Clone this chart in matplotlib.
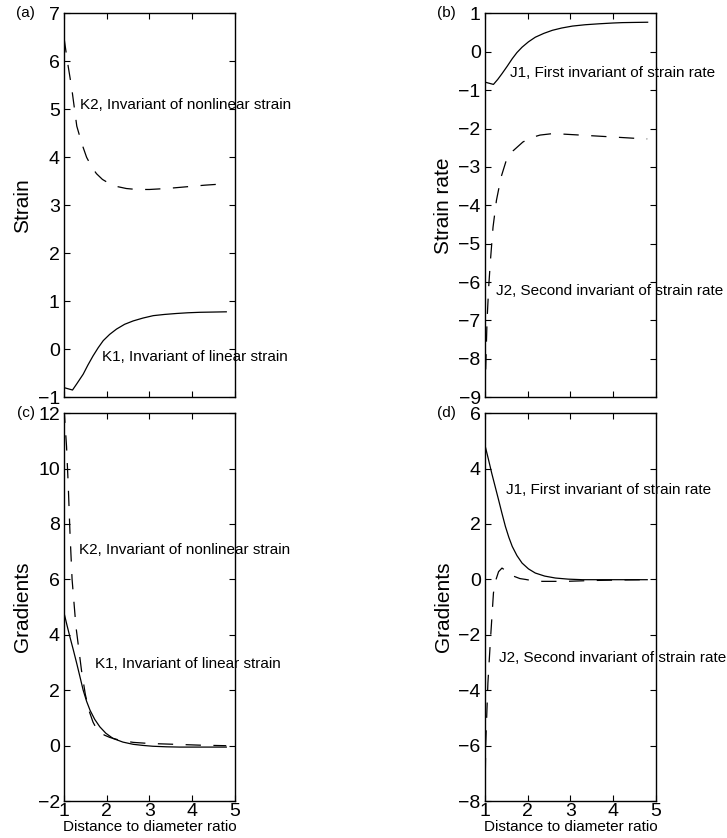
import matplotlib as mpl
mpl.use('agg')
import matplotlib.pyplot as plt

plt.rcParams['font.family'] = ['Liberation Sans', 'DejaVu Sans']
plt.rcParams['lines.scale_dashes'] = False

# (a) strain invariants
a_k1_x = [1.0, 1.2, 1.3, 1.45, 1.56, 1.68, 1.8, 1.92, 2.07, 2.23, 2.42, 2.62, 2.85, 3.09, 3.35, 3.63, 3.9, 4.18, 4.5, 4.8]
a_k1_y = [-0.8, -0.85, -0.72, -0.52, -0.33, -0.14, 0.03, 0.18, 0.31, 0.42, 0.52, 0.59, 0.65, 0.7, 0.725, 0.745, 0.76, 0.77, 0.775, 0.78]
a_k2_x = [1.0, 1.08, 1.18, 1.3, 1.42, 1.53, 1.65, 1.76, 1.9, 2.07, 2.25, 2.46, 2.7, 3.0, 3.4, 3.79, 4.3, 4.8]
a_k2_y = [6.5, 6.0, 5.45, 4.65, 4.28, 4.0, 3.8, 3.66, 3.54, 3.45, 3.39, 3.35, 3.33, 3.33, 3.35, 3.38, 3.42, 3.45]

# (b) strain rate invariants
b_j1_x = [1.0, 1.2, 1.3, 1.4, 1.52, 1.64, 1.75, 1.87, 2.02, 2.18, 2.38, 2.58, 2.8, 3.05, 3.35, 3.68, 4.0, 4.22, 4.5, 4.81]
b_j1_y = [-0.79, -0.85, -0.72, -0.57, -0.38, -0.18, -0.02, 0.12, 0.26, 0.38, 0.48, 0.56, 0.62, 0.67, 0.705, 0.73, 0.75, 0.76, 0.765, 0.77]
b_j2_x = [1.0, 1.05, 1.09, 1.13, 1.19, 1.27, 1.38, 1.5, 1.66, 1.89, 2.08, 2.29, 2.6, 3.23, 4.0, 4.6, 4.8]
b_j2_y = [-9.0, -7.0, -6.1, -5.43, -4.57, -3.87, -3.26, -2.83, -2.58, -2.35, -2.24, -2.17, -2.13, -2.17, -2.22, -2.26, -2.27]

# (c) gradients of strain invariants
c_k1_x = [1.0, 1.07, 1.14, 1.22, 1.3, 1.38, 1.45, 1.53, 1.61, 1.72, 1.84, 1.98, 2.15, 2.38, 2.62, 2.85, 3.08, 3.4, 3.71, 4.2, 4.8]
c_k1_y = [4.8, 4.35, 3.92, 3.45, 2.96, 2.45, 2.0, 1.6, 1.28, 0.95, 0.68, 0.45, 0.26, 0.13, 0.05, 0.01, -0.02, -0.04, -0.05, -0.05, -0.05]
c_k2_x = [1.0, 1.06, 1.1, 1.14, 1.19, 1.28, 1.41, 1.5, 1.59, 1.68, 1.76, 1.84, 1.95, 2.07, 2.3, 2.62, 3.0, 3.4, 4.17, 4.8]
c_k2_y = [12.2, 10.8, 9.4, 7.7, 6.0, 4.3, 2.72, 1.85, 1.25, 0.85, 0.62, 0.48, 0.38, 0.3, 0.2, 0.12, 0.08, 0.06, 0.02, 0.0]

# (d) gradients of strain rate invariants
d_j1_x = [1.0, 1.08, 1.16, 1.24, 1.32, 1.4, 1.48, 1.56, 1.64, 1.75, 1.87, 2.02, 2.18, 2.4, 2.65, 2.95, 3.28, 3.8, 4.8]
d_j1_y = [4.85, 4.35, 3.83, 3.35, 2.87, 2.38, 1.91, 1.52, 1.19, 0.86, 0.59, 0.38, 0.23, 0.12, 0.05, 0.01, -0.01, -0.01, -0.01]
d_j2_x = [1.0, 1.02, 1.07, 1.13, 1.2, 1.25, 1.32, 1.4, 1.5, 1.65, 1.82, 1.95, 2.13, 2.34, 2.9, 3.5, 4.2, 4.8]
d_j2_y = [-8.0, -5.9, -3.74, -2.17, -0.49, -0.05, 0.28, 0.41, 0.3, 0.13, 0.03, 0.0, -0.05, -0.07, -0.07, -0.04, -0.02, -0.01]

fig = plt.figure(figsize=(7.27, 8.38), dpi=100)

def make_panel(rect, yticks, ylabel, tag, show_x):
    ax = fig.add_axes(rect)
    ax.set_xlim(1, 5)
    ax.set_ylim(yticks[0], yticks[-1])
    ax.set_xticks([1, 2, 3, 4, 5])
    ax.set_yticks(yticks)
    ax.tick_params(direction='in', top=True, right=True, length=4, width=0.8, labelsize=14, pad=3)
    ax.tick_params(axis='x', pad=1)
    if not show_x:
        ax.set_xticklabels([])
    else:
        ax.set_xlabel('Distance to diameter ratio', fontsize=11, labelpad=0)
    ax.set_ylabel(ylabel, fontsize=15, labelpad=4)
    ax.set_yticklabels([str(t).replace('-', '\u2212') for t in yticks])
    for s in ax.spines.values():
        s.set_linewidth(1.0)
    ax.text(-0.17, 1.0, tag, transform=ax.transAxes, fontsize=11, ha='right', va='center')
    return ax

ax_a = make_panel([0.088, 0.526, 0.235, 0.458], list(range(-1, 8)), 'Strain', '(a)', False)
ax_a.plot(a_k1_x, a_k1_y, color='k', lw=0.9)
ax_a.plot(a_k2_x, a_k2_y, color='k', lw=0.9, dashes=(11, 9))
ax_a.text(1.37, 5.1, 'K2, Invariant of nonlinear strain', fontsize=11, va='center', clip_on=False)
ax_a.text(1.9, -0.17, 'K1, Invariant of linear strain', fontsize=11, va='center', clip_on=False)

ax_b = make_panel([0.667, 0.526, 0.235, 0.458], list(range(-9, 2)), 'Strain rate', '(b)', False)
ax_b.plot(b_j1_x, b_j1_y, color='k', lw=0.9)
ax_b.plot(b_j2_x, b_j2_y, color='k', lw=0.9, dashes=(11, 9))
ax_b.text(1.58, -0.55, 'J1, First invariant of strain rate', fontsize=11, va='center', clip_on=False)
ax_b.text(1.25, -6.22, 'J2, Second invariant of strain rate', fontsize=11, va='center', clip_on=False)

ax_c = make_panel([0.088, 0.044, 0.235, 0.463], list(range(-2, 13, 2)), 'Gradients', '(c)', True)
ax_c.plot(c_k1_x, c_k1_y, color='k', lw=0.9)
ax_c.plot(c_k2_x, c_k2_y, color='k', lw=0.9, dashes=(11, 9))
ax_c.text(1.36, 7.06, 'K2, Invariant of nonlinear strain', fontsize=11, va='center', clip_on=False)
ax_c.text(1.72, 2.96, 'K1, Invariant of linear strain', fontsize=11, va='center', clip_on=False)

ax_d = make_panel([0.667, 0.044, 0.235, 0.463], list(range(-8, 7, 2)), 'Gradients', '(d)', True)
ax_d.plot(d_j1_x, d_j1_y, color='k', lw=0.9)
ax_d.plot(d_j2_x, d_j2_y, color='k', lw=0.9, dashes=(11, 9))
ax_d.text(1.49, 3.24, 'J1, First invariant of strain rate', fontsize=11, va='center', clip_on=False)
ax_d.text(1.32, -2.83, 'J2, Second invariant of strain rate', fontsize=11, va='center', clip_on=False)

plt.savefig('out.png', dpi=100)
